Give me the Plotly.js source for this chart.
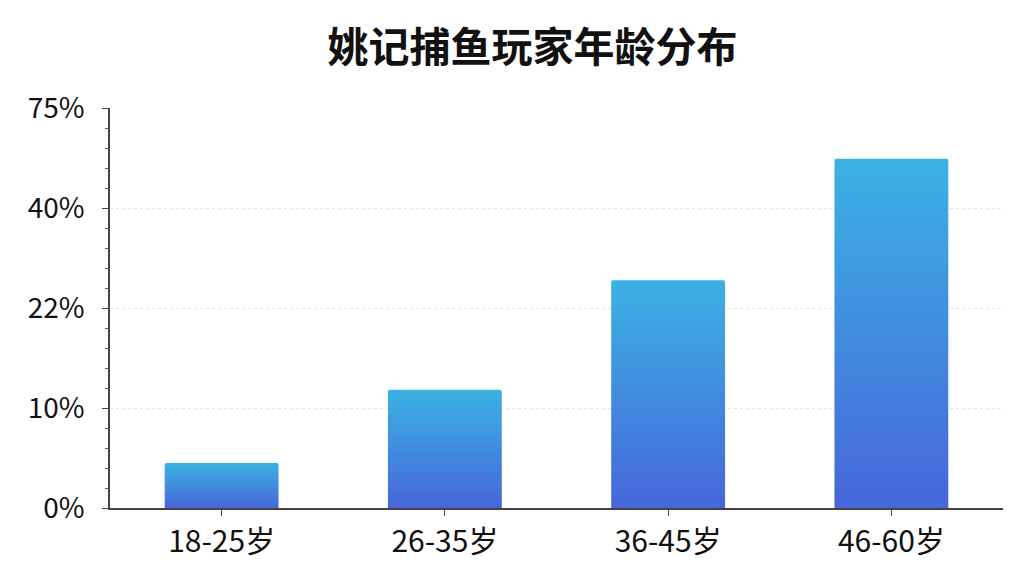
<!DOCTYPE html>
<html>
<head>
<meta charset="utf-8">
<script src="https://cdn.plot.ly/plotly-3.0.1.min.js"></script>
<style>
    html, body { margin: 0; padding: 0; background: white; }
    #myDiv { width: 1024px; height: 576px; }
</style>
</head>
<body>
<div id="myDiv"></div>
<script>
// age groups and share of players (%)
const ageGroups = ["18-25岁", "26-35岁", "36-45岁", "46-60岁"];
const sharePct = [4.5, 12.2, 27, 57.2];

// the y axis is not linear: ticks are evenly spaced
const tickPct = [0, 10, 22, 40, 75];
const tickText = ["0%", "10%", "22%", "40%", "75%"];

// map a percent value onto the evenly spaced tick scale
function toAxis(v) {
    for (let i = 0; i < tickPct.length - 1; i++) {
        if (v <= tickPct[i + 1]) {
            return i + (v - tickPct[i]) / (tickPct[i + 1] - tickPct[i]);
        }
    }
    return tickPct.length - 1;
}

const font = '"Noto Sans CJK SC", "Noto Sans", sans-serif';

const data = [
    {
        type: "bar",
        x: ageGroups,
        y: sharePct.map(toAxis),
        customdata: sharePct,
        hovertemplate: "%{x}: %{customdata}%<extra></extra>",
        width: 0.51,
        marker: {
            color: "#3f8ee0",
            cornerradius: 2,
        },
    },
];

const layout = {
    width: 1024,
    height: 576,
    margin: { l: 110, r: 21, t: 108, b: 68 },
    paper_bgcolor: "white",
    plot_bgcolor: "white",
    showlegend: false,
    title: {
        text: "<b>姚记捕鱼玩家年龄分布</b>",
        font: { family: font, size: 41, color: "#111" },
        x: 0.52,
        xanchor: "center",
        y: 0.918,
        yanchor: "middle",
    },
    xaxis: {
        type: "category",
        showline: true,
        linecolor: "#444",
        linewidth: 1.5,
        ticks: "outside",
        ticklen: 6,
        tickcolor: "#444",
        showgrid: false,
        tickfont: { family: font, size: 30, color: "#111" },
        ticklabelstandoff: 0,
        fixedrange: true,
    },
    yaxis: {
        range: [0, 4],
        tickvals: [0, 1, 2, 3, 4],
        ticktext: tickText,
        showline: true,
        linecolor: "#444",
        linewidth: 1.5,
        ticks: "outside",
        ticklen: 6,
        tickcolor: "#444",
        showgrid: true,
        gridcolor: "#e4e4e4",
        griddash: "dot",
        zeroline: false,
        tickfont: { family: font, size: 28, color: "#111" },
        ticklabelstandoff: 12,
        minor: {
            dtick: 0.2,
            ticks: "outside",
            ticklen: 3,
            tickcolor: "#666",
            showgrid: false,
        },
        fixedrange: true,
    },
};

Plotly.newPlot("myDiv", data, layout, { displayModeBar: false }).then(() => {
    // vertical gradient on each bar: cyan on top, royal blue at the bottom
    const svg = document.querySelector("#myDiv .main-svg");
    const ns = "http://www.w3.org/2000/svg";
    let defs = svg.querySelector("defs");
    if (!defs) {
        defs = document.createElementNS(ns, "defs");
        svg.insertBefore(defs, svg.firstChild);
    }
    const grad = document.createElementNS(ns, "linearGradient");
    grad.setAttribute("id", "barGrad");
    grad.setAttribute("x1", "0");
    grad.setAttribute("y1", "0");
    grad.setAttribute("x2", "0");
    grad.setAttribute("y2", "1");
    [["0%", "#3bb2e2"], ["100%", "#4766da"]].forEach(([off, col]) => {
        const stop = document.createElementNS(ns, "stop");
        stop.setAttribute("offset", off);
        stop.setAttribute("stop-color", col);
        grad.appendChild(stop);
    });
    defs.appendChild(grad);
    document.querySelectorAll("#myDiv .barlayer .point path").forEach((p) => {
        p.style.fill = "url(#barGrad)";
    });
});
</script>
</body>
</html>
